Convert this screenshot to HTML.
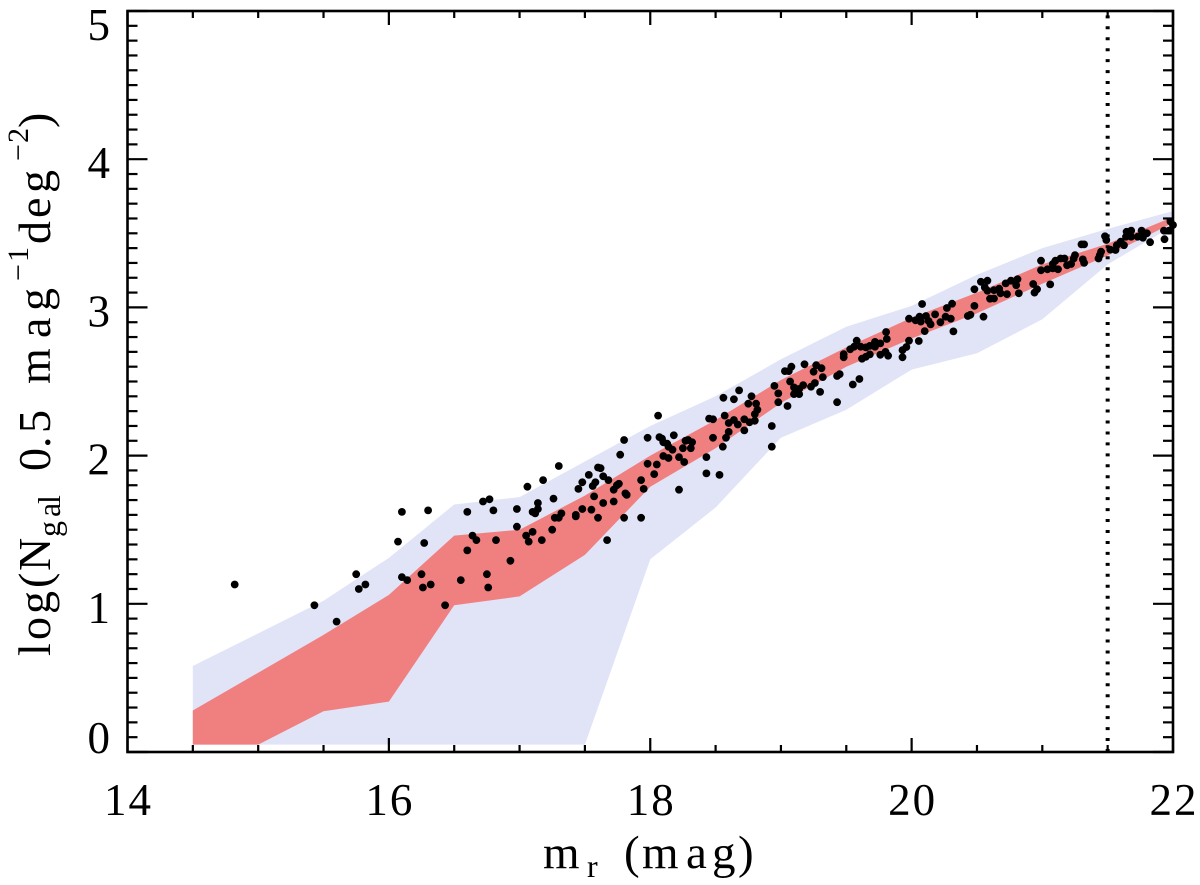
<!DOCTYPE html>
<html lang="en">
<head>
<meta charset="utf-8">
<title>Galaxy number counts</title>
<style>
html,body{margin:0;padding:0;background:#fff;}
svg{display:block;}
text{font-family:"Liberation Serif",serif;fill:#000;white-space:pre;}
</style>
</head>
<body>
<svg id="chart" width="1200" height="885" viewBox="0 0 1200 885" xmlns="http://www.w3.org/2000/svg">
  <text font-size="47"><tspan x="543" y="868">m</tspan><tspan x="587" y="877" font-size="32">r</tspan><tspan x="624" y="868">(</tspan><tspan x="642 686 712" y="868">mag</tspan><tspan x="738" y="868">)</tspan></text>
  <text transform="translate(50,656) rotate(-90)" font-size="46"><tspan x="0 16 42 68 85" y="0">log(N</tspan><tspan x="119 139 152" y="10" font-size="32">gal</tspan><tspan x="185 208 223" y="0">0.5</tspan><tspan x="272 318 345" y="0">mag</tspan><tspan x="375 394" y="-22" font-size="30">−1</tspan><tspan x="412 438 463" y="0">deg</tspan><tspan x="495 513" y="-22" font-size="30">−2</tspan><tspan x="528" y="0">)</tspan></text>
</svg>
<script>
const bandX = [14.5,15,15.5,16,16.5,17,17.5,18,18.5,19,19.5,20,20.5,21,21.5,22];
const blueUpper = [0.58,0.80,1.02,1.31,1.67,1.72,1.96,2.20,2.40,2.65,2.87,3.01,3.22,3.40,3.53,3.65];
const blueLower = [0.05,0.05,0.05,0.05,0.05,0.05,0.05,1.30,1.65,2.12,2.31,2.58,2.69,2.92,3.29,3.55];
const redUpper = [0.28,0.535,0.79,1.06,1.46,1.50,1.73,2.00,2.24,2.51,2.73,2.93,3.10,3.29,3.43,3.61];
const redLower = [0.05,0.05,0.275,0.34,0.99,1.05,1.33,1.79,2.05,2.355,2.60,2.79,2.96,3.16,3.35,3.57];
const limitMag = [21.5];
const xTickLabels = ["14","16","18","20","22"];
const yTickLabels = ["0","1","2","3","4","5"];
const pointMag = [14.82,15.43,15.60,15.75,15.77,15.82,16.07,16.10,16.10,16.14,16.27,16.30,16.25,16.26,16.32,16.43,16.55,16.60,16.60,16.64,16.67,
16.72,16.77,16.80,16.75,16.76,16.82,16.93,16.98,16.98,17.05,17.07,17.10,17.06,17.18,17.30,17.14,17.10,17.12,17.14,17.17,17.25,17.26,17.27,17.30,17.32,17.43,17.43,17.45,17.48,17.53,17.48,17.55,17.57,17.56,17.58,17.60,17.62,17.64,17.60,17.64,17.68,17.67,17.72,17.72,17.745,17.76,17.80,17.77,17.80,17.81,17.82,17.93,17.93,17.95,17.98,17.98,18.03,18.05,18.06,18.07,18.09,18.10,18.13,18.14,18.17,18.18,18.10,18.14,18.22,18.22,18.26,18.25,18.27,18.29,18.32,18.31,18.43,18.43,18.53,18.48,18.555,18.58,18.60,18.45,18.48,18.57,18.56,18.64,18.68,18.60,18.64,18.67,18.72,18.72,18.76,18.80,18.75,18.775,18.81,18.82,18.80,18.93,18.93,18.95,18.98,18.98,19.05,19.03,19.06,19.08,19.07,
19.10,19.14,19.10,19.14,19.17,19.23,19.26,19.30,19.32,19.31,19.27,19.25,19.18,19.43,19.43,19.45,19.55,19.60,19.48,19.48,19.53,19.56,19.58,19.61,19.65,19.68,19.72,19.72,19.76,19.805,19.81,19.62,19.65,19.68,19.76,19.80,19.82,19.93,19.93,19.96,19.98,20.055,20.10,19.98,20.03,20.06,20.08,20.11,20.07,20.13,20.145,20.18,20.22,20.26,20.30,20.27,20.31,20.32,20.43,20.45,20.48,20.55,20.48,20.53,20.58,20.56,20.58,20.63,20.67,20.68,20.73,20.60,20.63,20.72,20.76,20.81,20.80,20.82,20.93,20.96,20.94,21.06,20.99,20.99,21.04,21.08,21.10,21.12,21.08,21.14,21.17,21.19,21.22,21.25,21.24,21.31,21.32,21.30,21.32,21.43,21.44,21.45,21.48,21.49,21.52,21.56,21.57,21.60,21.625,21.64,21.645,21.68,21.68,21.73,21.76,21.77,21.80,21.825,21.93,21.935,21.97,21.98,22.0];
const pointLogN = [1.13,0.99,0.88,1.20,1.10,1.13,1.42,1.62,1.18,1.16,1.41,1.63,1.20,1.11,1.13,0.99,1.16,1.62,1.36,1.46,1.43,
1.69,1.705,1.63,1.20,1.11,1.43,1.29,1.64,1.52,1.46,1.42,1.485,1.79,1.835,1.93,1.68,1.62,1.61,1.64,1.43,1.50,1.71,1.58,1.58,1.61,1.59,1.60,1.775,1.82,1.87,1.64,1.635,1.725,1.795,1.82,1.92,1.915,1.68,1.58,1.86,1.835,1.43,1.77,1.69,1.80,1.81,2.105,2.006,1.58,1.745,1.735,1.58,1.835,1.775,2.12,1.945,1.875,1.94,2.27,2.125,2.115,2.09,2.08,2.06,2.04,2.137,1.997,1.984,1.77,1.99,1.957,2.05,2.10,2.105,2.09,2.05,1.99,1.88,1.87,2.12,2.06,2.12,2.16,2.25,2.245,2.27,2.39,2.38,2.44,2.22,2.24,2.21,2.245,2.17,2.225,2.235,2.35,2.40,2.35,2.31,2.28,2.20,2.06,2.47,2.42,2.36,2.335,2.57,2.57,2.60,2.50,
2.46,2.45,2.415,2.415,2.476,2.465,2.49,2.43,2.53,2.59,2.61,2.566,2.616,2.36,2.537,2.55,2.48,2.517,2.685,2.663,2.717,2.735,2.775,2.735,2.73,2.74,2.735,2.767,2.757,2.834,2.787,2.654,2.667,2.683,2.68,2.70,2.674,2.663,2.712,2.733,2.775,2.773,2.84,2.924,2.913,2.937,3.023,2.942,2.904,2.908,2.885,2.953,2.90,2.937,2.924,2.996,3.025,2.838,2.942,2.95,3.01,2.937,3.122,3.173,3.18,3.135,3.113,3.117,3.126,3.095,3.09,3.059,3.06,3.162,3.18,3.19,3.15,3.095,3.158,3.122,3.10,3.155,3.315,3.25,3.257,3.293,3.315,3.257,3.263,3.33,3.33,3.284,3.293,3.353,3.33,3.324,3.30,3.425,3.425,3.33,3.353,3.376,3.48,3.455,3.39,3.387,3.42,3.443,3.42,3.477,3.51,3.518,3.477,3.477,3.518,3.47,3.50,3.44,3.518,3.46,3.518,3.58,3.556];

const NS = 'http://www.w3.org/2000/svg';
const svg = document.getElementById('chart');
const xLeft = 127.5, xRight = 1173, yBottom = 752, yTop = 11;
function sx(v){ return xLeft + (v - 14) / 8 * (xRight - xLeft); }
function sy(v){ return yBottom - v / 5 * (yBottom - yTop); }
function make(tag, attrs){
  const el = document.createElementNS(NS, tag);
  for (const k in attrs) el.setAttribute(k, attrs[k]);
  return el;
}
function bandPath(upper, lower){
  const top = bandX.map((x,i) => sx(x).toFixed(1) + ',' + sy(upper[i]).toFixed(1));
  const bot = bandX.map((x,i) => sx(x).toFixed(1) + ',' + sy(lower[i]).toFixed(1)).reverse();
  return top.concat(bot).join(' ');
}

const blueBand = make('polygon', {points: bandPath(blueUpper, blueLower), fill: '#e1e3f7'});


svg.appendChild(blueBand);

const redBand = make('polygon', {points: bandPath(redUpper, redLower), fill: '#f08080'});


svg.appendChild(redBand);

const limitLine = make('line', {x1: sx(limitMag[0]), x2: sx(limitMag[0]), y1: yBottom, y2: yTop, stroke: '#000', 'stroke-width': 4, 'stroke-dasharray': '3 7.95'});


svg.appendChild(limitLine);

const pointsGroup = make('g', {fill: '#000'});


svg.appendChild(pointsGroup);
pointMag.forEach((m, i) => {
  const c = make('circle', {cx: sx(m).toFixed(1), cy: sy(pointLogN[i]).toFixed(1), r: 3.9});
  
  
  pointsGroup.appendChild(c);
});

const ticksGroup = make('g', {stroke: '#000', 'stroke-width': 2.2});


svg.appendChild(ticksGroup);
function tick(x1, y1, x2, y2){
  const t = make('line', {x1: x1, y1: y1, x2: x2, y2: y2});
  
  
  ticksGroup.appendChild(t);
}
for (let i = 0; i <= 16; i++){
  const v = 14 + i * 0.5;
  const len = i % 4 === 0 ? 14 : 7;
  tick(sx(v), yBottom, sx(v), yBottom - len);
  tick(sx(v), yTop, sx(v), yTop + len);
}
for (let i = 0; i <= 50; i++){
  const v = i * 0.1;
  const len = i % 10 === 0 ? 20 : 10;
  tick(xLeft, sy(v), xLeft + len, sy(v));
  tick(xRight, sy(v), xRight - len, sy(v));
}

const frame = make('rect', {x: xLeft, y: yTop, width: xRight - xLeft, height: yBottom - yTop, fill: 'none', stroke: '#000', 'stroke-width': 2.6});


svg.appendChild(frame);

xTickLabels.forEach(s => {
  const t = make('text', {x: sx(Number(s)) + 1, y: 815, 'text-anchor': 'middle', 'font-size': 45, 'letter-spacing': 2});
  t.textContent = s;
  
  
  svg.appendChild(t);
});
yTickLabels.forEach(s => {
  const v = Number(s);
  const nudge = v === 0 ? 1 : (v === 5 ? 29 : 19);
  const t = make('text', {x: 110, y: sy(v) + nudge, 'text-anchor': 'end', 'font-size': 45});
  t.textContent = s;
  
  
  svg.appendChild(t);
});
</script>
</body>
</html>
